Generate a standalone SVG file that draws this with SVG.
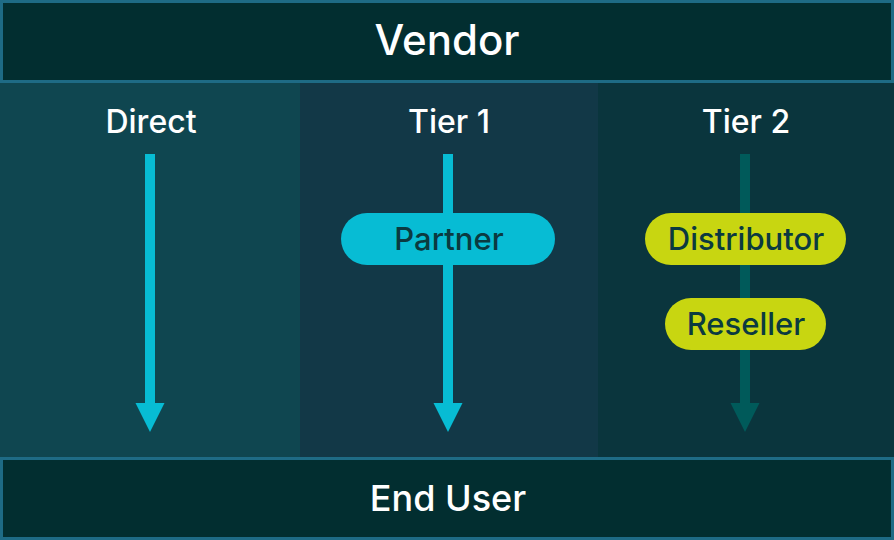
<svg xmlns="http://www.w3.org/2000/svg" width="894" height="540" viewBox="0 0 894 540">
<style>
.bar{fill:#022e30;stroke:#1e6b85;stroke-width:3}
.bartxt{font-family:Inter,"Liberation Sans",sans-serif;font-weight:500;fill:#ffffff;text-anchor:middle}
.coltxt{font-family:Inter,"Liberation Sans",sans-serif;font-weight:500;font-size:32px;fill:#ffffff;text-anchor:middle}
.pilltxt{font-family:Inter,"Liberation Sans",sans-serif;font-weight:500;font-size:31px;fill:#0b3a40;text-anchor:middle}
</style>
<g id="columns">
<rect x="0" y="82" width="300" height="376" fill="#0f4650"/>
<rect x="300" y="82" width="298" height="376" fill="#123847"/>
<rect x="598" y="82" width="296" height="376" fill="#0a353d"/>
</g>
<g id="vendor">
<rect class="bar" x="1.5" y="1.5" width="891" height="80"/>
<text class="bartxt" x="447" y="55" font-size="42">Vendor</text>
</g>
<g id="enduser">
<rect class="bar" x="1.5" y="458.5" width="891" height="80"/>
<text class="bartxt" x="448" y="511" font-size="36">End User</text>
</g>
<g id="labels">
<text class="coltxt" x="151" y="133">Direct</text>
<text class="coltxt" x="449" y="133">Tier 1</text>
<text class="coltxt" x="746" y="133">Tier 2</text>
</g>
<g id="connectors">
<rect x="145" y="154" width="10" height="250" fill="#07bcd4"/>
<polygon points="135.5,403 164.5,403 150,432" fill="#07bcd4"/>
<rect x="443" y="154" width="10" height="250" fill="#07bcd4"/>
<polygon points="433.5,403 462.5,403 448,432" fill="#07bcd4"/>
<rect x="740" y="154" width="10" height="250" fill="#005a5a"/>
<polygon points="730.5,403 759.5,403 745,432" fill="#005a5a"/>
</g>
<g id="partner">
<rect x="341" y="213" width="214" height="52" rx="26" fill="#07bcd4"/>
<text class="pilltxt" x="449" y="249.5">Partner</text>
</g>
<g id="distributor">
<rect x="645" y="213" width="201" height="52" rx="26" fill="#c8d611"/>
<text class="pilltxt" x="746" y="249.5">Distributor</text>
</g>
<g id="reseller">
<rect x="665" y="298" width="161" height="52" rx="26" fill="#c8d611"/>
<text class="pilltxt" x="746" y="334.5">Reseller</text>
</g>
</svg>
